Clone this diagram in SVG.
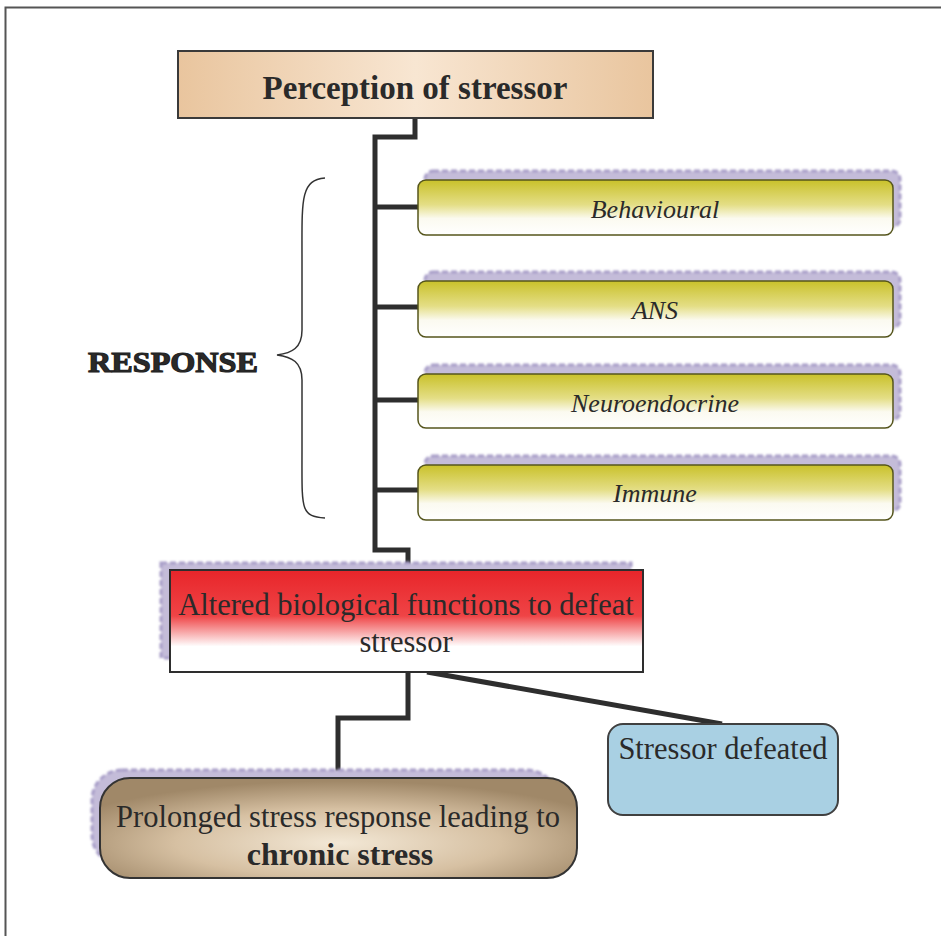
<svg xmlns="http://www.w3.org/2000/svg" width="941" height="936" viewBox="0 0 941 936">
<defs>
<linearGradient id="gBeige" x1="0" y1="0" x2="1" y2="0">
<stop offset="0" stop-color="#e9c59e"/><stop offset="0.5" stop-color="#f8e6d2"/><stop offset="1" stop-color="#e9c59e"/>
</linearGradient>
<linearGradient id="gYellow" x1="0" y1="0" x2="0" y2="1">
<stop offset="0" stop-color="#c9c12a"/><stop offset="0.45" stop-color="#e4de86"/><stop offset="0.7" stop-color="#fbfaf0"/><stop offset="1" stop-color="#ffffff"/>
</linearGradient>
<linearGradient id="gRed" x1="0" y1="0" x2="0" y2="1">
<stop offset="0" stop-color="#e8252a"/><stop offset="0.45" stop-color="#ef4446"/><stop offset="0.75" stop-color="#ffffff"/><stop offset="1" stop-color="#ffffff"/>
</linearGradient>
<radialGradient id="gBrown" cx="0.5" cy="0.65" r="0.62">
<stop offset="0" stop-color="#f3e8d6"/><stop offset="0.55" stop-color="#d6c0a2"/><stop offset="1" stop-color="#a08868"/>
</radialGradient>
<filter id="blur" x="-5%" y="-20%" width="110%" height="140%"><feGaussianBlur stdDeviation="1.2"/></filter>
</defs>
<style>
.shadow{fill:#c4bcd9;stroke:#a79dc8;stroke-width:3;stroke-dasharray:6 3;filter:url(#blur)}
.conn{fill:none;stroke:#2e2e2e;stroke-width:5;stroke-linejoin:miter}
.t{font-family:"Liberation Serif","Times New Roman",serif;fill:#2a2a2a;text-anchor:middle}
.it{font-style:italic;font-size:26px}
.r{font-size:30.5px}
.ybox{fill:url(#gYellow);stroke:#55551c;stroke-width:1.5}
</style>
<rect width="941" height="936" fill="#ffffff"/>
<path d="M5.5,936 V7.5 H941" fill="none" stroke="#555" stroke-width="2"/>

<g id="connectors">
<path class="conn" d="M415,118 V137 H375 V550 H408 V570"/>
<path class="conn" d="M375,207 H418 M375,307 H418 M375,400 H418 M375,490 H418"/>
<path class="conn" d="M408,672 V718 H338 V779"/>
<path class="conn" d="M427,672 L722,724"/>
</g>

<g id="perception">
<rect x="178" y="51" width="475" height="67" fill="url(#gBeige)" stroke="#3a3a3a" stroke-width="2"/>
<text class="t" x="415" y="99" font-size="33" font-weight="bold">Perception of stressor</text>
</g>

<g id="response-label">
<path d="M325,178 C300,180 302,200 302,260 L302,330 C302,348 292,353 277,355 C292,357 302,362 302,380 L302,450 C302,510 300,516 325,518" fill="none" stroke="#333" stroke-width="1.5"/>
<text class="t" x="173" y="372" font-size="30" font-weight="bold" fill="#555" stroke="#222" stroke-width="1.2" textLength="170" lengthAdjust="spacingAndGlyphs">RESPONSE</text>
</g>

<g id="behavioural">
<rect class="shadow" x="425" y="171" width="475" height="56" rx="8"/>
<rect class="ybox" x="418" y="180" width="475" height="55" rx="8"/>
<text class="t it" x="655" y="218">Behavioural</text>
</g>
<g id="ans">
<rect class="shadow" x="425" y="272" width="475" height="56" rx="8"/>
<rect class="ybox" x="418" y="281" width="475" height="56" rx="8"/>
<text class="t it" x="655" y="319">ANS</text>
</g>
<g id="neuroendocrine">
<rect class="shadow" x="425" y="365" width="475" height="55" rx="8"/>
<rect class="ybox" x="418" y="374" width="475" height="54" rx="8"/>
<text class="t it" x="655" y="412">Neuroendocrine</text>
</g>
<g id="immune">
<rect class="shadow" x="425" y="456" width="475" height="55" rx="8"/>
<rect class="ybox" x="418" y="465" width="475" height="55" rx="8"/>
<text class="t it" x="655" y="502">Immune</text>
</g>

<g id="altered">
<rect class="shadow" x="161" y="563" width="470" height="95"/>
<rect x="170" y="570" width="473" height="102" fill="url(#gRed)" stroke="#2e2e2e" stroke-width="2"/>
<text class="t r" x="406" y="615">Altered biological functions to defeat</text>
<text class="t r" x="406" y="652">stressor</text>
</g>

<g id="prolonged">
<rect class="shadow" x="92" y="770" width="465" height="95" rx="30"/>
<rect x="100" y="778" width="477" height="100" rx="30" fill="url(#gBrown)" stroke="#333" stroke-width="2"/>
<text class="t r" x="338" y="827">Prolonged stress response leading to</text>
<text class="t" x="340" y="865" font-size="32" font-weight="bold">chronic stress</text>
</g>

<g id="defeated">
<rect x="608" y="724" width="230" height="91" rx="15" fill="#a9d0e3" stroke="#404040" stroke-width="2"/>
<text class="t r" x="723" y="759">Stressor defeated</text>
</g>
</svg>
